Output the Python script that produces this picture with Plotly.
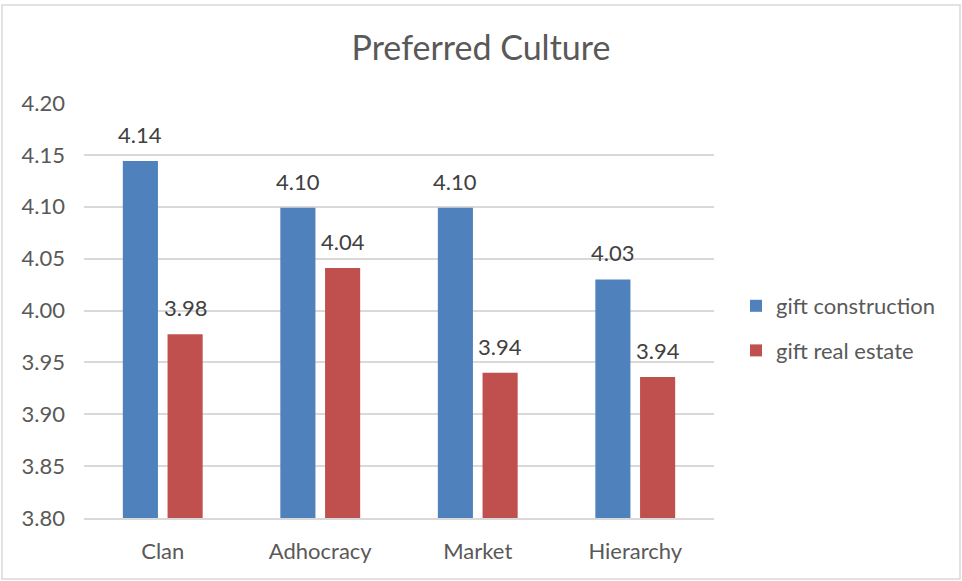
import plotly.graph_objects as go

# Organisational culture profile: preferred scores by culture type
categories = ["Clan", "Adhocracy", "Market", "Hierarchy"]
construction = [4.144, 4.099, 4.099, 4.030]
real_estate = [3.977, 4.041, 3.940, 3.936]
series_names = ["gift construction", "gift real estate"]
y_ticks = [3.80, 3.85, 3.90, 3.95, 4.00, 4.05, 4.10, 4.15, 4.20]

BLUE = "#4F81BD"
RED = "#C0504D"
TEXT = "#595959"
GRID = "#D9D9D9"
FONT = "Lato, 'Open Sans', sans-serif"

W, H = 962, 581
L, R, T, B = 84, 248, 103, 63

fig = go.Figure()
for name, vals, col, grp in [(series_names[0], construction, BLUE, "a"),
                             (series_names[1], real_estate, RED, "b")]:
    fig.add_trace(go.Bar(
        x=categories, y=vals, name=name, legendgroup=grp,
        marker=dict(color=col, line=dict(width=0)),
        hoverinfo="x+y",
    ))

# value labels above each bar
slot = (W - L - R) / len(categories) * (1 - 0.432) / 2
for vals, dx in [(construction, -slot / 2), (real_estate, slot / 2)]:
    for c, v in zip(categories, vals):
        fig.add_annotation(
            x=c, y=v, text=f"{v:.2f}", showarrow=False,
            xshift=dx, yshift=11, yanchor="bottom",
            font=dict(family=FONT, size=22, color="#404040"),
        )

# light frame around the chart area
pw, ph = W - L - R, H - T - B
fig.add_shape(
    type="rect", xref="paper", yref="paper",
    x0=(2 - L) / pw, x1=(960 - L) / pw,
    y0=(H - B - 579) / ph, y1=(H - B - 5) / ph,
    line=dict(color=GRID, width=1.5), fillcolor="rgba(0,0,0,0)", layer="below",
)

fig.update_layout(
    width=W, height=H,
    margin=dict(l=L, r=R, t=T, b=B),
    paper_bgcolor="white", plot_bgcolor="white",
    barmode="group", bargap=0.432, bargroupgap=0.215,
    title=dict(text="Preferred Culture", x=0.5, xref="container",
               y=1 - 48 / H, yref="container", yanchor="middle",
               font=dict(family=FONT, size=34, color=TEXT)),
    font=dict(family=FONT, size=22, color=TEXT),
    legend=dict(x=(736 - L) / pw, y=(H - B - 285) / ph, xanchor="left", yanchor="top",
                traceorder="grouped", tracegroupgap=13,
                font=dict(family=FONT, size=22, color=TEXT),
                bgcolor="rgba(0,0,0,0)"),
    showlegend=True,
)
fig.update_yaxes(range=[3.80, 4.20], tickvals=y_ticks,
                 ticktext=[f"{t:.2f}" for t in y_ticks],
                 showgrid=True, gridcolor=GRID, gridwidth=1.5,
                 zeroline=False, showline=False, ticks="",
                 ticklabelstandoff=18,
                 tickfont=dict(family=FONT, size=22, color=TEXT))
fig.update_xaxes(showline=True, linecolor=GRID, linewidth=1.5, ticks="",
                 ticklabelstandoff=13,
                 tickfont=dict(family=FONT, size=22, color=TEXT))

fig.write_html("out.html")
